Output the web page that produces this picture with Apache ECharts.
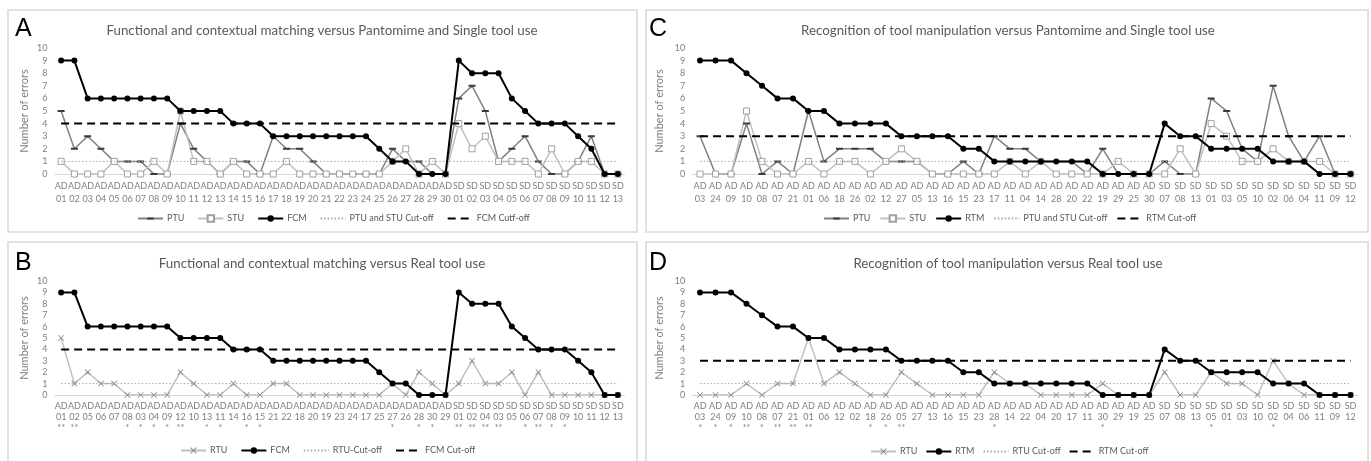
<!DOCTYPE html>
<html><head><meta charset="utf-8">
<script src="https://cdn.jsdelivr.net/npm/echarts@6/dist/echarts.min.js"></script>
<style>html,body{margin:0;padding:0;background:#fff}#c{width:1371px;height:461px}</style>
</head><body><div id="c"></div><script>
// ---------- data ----------
const catsA = ['AD 01','AD 02','AD 03','AD 04','AD 05','AD 06','AD 07','AD 08','AD 09','AD 10','AD 11','AD 12','AD 13','AD 14','AD 15','AD 16','AD 17','AD 18','AD 19','AD 20','AD 21','AD 22','AD 23','AD 24','AD 25','AD 26','AD 27','AD 28','AD 29','AD 30','SD 01','SD 02','SD 03','SD 04','SD 05','SD 06','SD 07','SD 08','SD 09','SD 10','SD 11','SD 12','SD 13'];
const ptuA = [5,2,3,2,1,1,1,0,0,4, 2,1,0,1,1,0,3,2,2,1, 0,0,0,0,0,2,1,1,0,0, 6,7,5,1,2,3,1,0,0,1,3,0,0];
const stuA = [1,0,0,0,1,0,0,1,0,5, 1,1,0,1,0,0,0,1,0,0, 0,0,0,0,0,1,2,0,1,0, 4,2,3,1,1,1,0,2,0,1,1,0,0];
const fcmA = [9,9,6,6,6,6,6,6,6,5, 5,5,5,4,4,4,3,3,3,3, 3,3,3,3,2,1,1,0,0,0, 9,8,8,8,6,5,4,4,4,3,2,0,0];
const cutPtuStuA = 1, cutFcmA = 4;

const catsB = ['AD 01','AD 02','AD 05','AD 06','AD 07','AD 08','AD 03','AD 04','AD 09','AD 12','AD 10','AD 13','AD 11','AD 14','AD 16','AD 15','AD 21','AD 22','AD 18','AD 20','AD 19','AD 23','AD 24','AD 17','AD 25','AD 27','AD 26','AD 28','AD 30','AD 29','SD 01','SD 02','SD 04','SD 03','SD 05','SD 06','SD 07','SD 08','SD 09','SD 10','SD 11','SD 12','SD 13'];
const sigB = ['**','**','','','','*','*','*','*','**', '','*','*','','*','*','','','','', '','','','','','*','','*','*','', '**','**','**','**','','*','**','*','*','','','',''];
const rtuB = [5,1,2,1,1,0,0,0,0,2, 1,0,0,1,0,0,1,1,0,0, 0,0,0,0,0,1,0,2,1,0, 1,3,1,1,2,0,2,0,0,0,0,0,0];
const fcmB = [9,9,6,6,6,6,6,6,6,5, 5,5,5,4,4,4,3,3,3,3, 3,3,3,3,2,1,1,0,0,0, 9,8,8,8,6,5,4,4,4,3,2,0,0];
const cutRtuB = 1, cutFcmB = 4;

const catsC = ['AD 03','AD 24','AD 09','AD 10','AD 08','AD 07','AD 21','AD 01','AD 06','AD 18','AD 26','AD 02','AD 12','AD 27','AD 05','AD 13','AD 16','AD 15','AD 23','AD 17','AD 11','AD 04','AD 14','AD 28','AD 20','AD 22','AD 19','AD 29','AD 25','AD 30','SD 07','SD 08','SD 13','SD 01','SD 03','SD 05','SD 10','SD 02','SD 06','SD 04','SD 11','SD 09','SD 12'];
const ptuC = [3,0,0,4,0,1,0,5,1,2, 2,2,1,1,1,0,0,1,0,3, 2,2,1,1,1,0,2,0,0,0, 1,0,0,6,5,2,1,7,3,1,3,0,0];
const stuC = [0,0,0,5,1,0,0,1,0,1, 1,0,1,2,1,0,0,0,0,0, 1,0,1,0,0,0,0,1,0,0, 0,2,0,4,3,1,1,2,1,1,1,0,0];
const rtmC = [9,9,9,8,7,6,6,5,5,4, 4,4,4,3,3,3,3,2,2,1, 1,1,1,1,1,1,0,0,0,0, 4,3,3,2,2,2,2,1,1,1,0,0,0];
const cutPtuStuC = 1, cutRtmC = 3;

const catsD = ['AD 03','AD 24','AD 09','AD 10','AD 08','AD 07','AD 21','AD 01','AD 06','AD 12','AD 02','AD 18','AD 26','AD 05','AD 27','AD 13','AD 16','AD 15','AD 23','AD 28','AD 14','AD 22','AD 04','AD 20','AD 17','AD 11','AD 30','AD 29','AD 19','AD 25','SD 07','SD 08','SD 13','SD 05','SD 01','SD 03','SD 10','SD 02','SD 04','SD 06','SD 11','SD 09','SD 12'];
const sigD = ['*','*','*','**','*','**','**','**','','', '','*','*','**','','','','','','*', '','','','','','','*','','','', '','','','*','','','','*','','','','',''];
const rtuD = [0,0,0,1,0,1,1,5,1,2, 1,0,0,2,1,0,0,0,0,2, 1,1,0,0,0,0,1,0,0,0, 2,0,0,2,1,1,0,3,1,0,0,0,0];
const rtmD = [9,9,9,8,7,6,6,5,5,4, 4,4,4,3,3,3,3,2,2,1, 1,1,1,1,1,1,0,0,0,0, 4,3,3,2,2,2,2,1,1,1,0,0,0];
const cutRtuD = 1, cutRtmD = 3;

const yTicks = [0,1,2,3,4,5,6,7,8,9,10];

// ---------- styles ----------
const FONT = 'Lato, "Open Sans", sans-serif';
const XSYM = 'path://M0,1L1,0L5,4L9,0L10,1L6,5L10,9L9,10L5,6L1,10L0,9L4,5Z';
// horizontal dash marker; tiny corner specks keep the bounding box square
const DASH = 'path://M0,0L0.01,0L0,0.01Z M10,10L9.99,10L10,9.99Z M0,3.6H10V6.4H0Z';
const CLEAR = 'rgba(0,0,0,0)';
const grids = [
  {left: 54.5, right: 746.5, top: 48, bottom: 287},
  {left: 54.5, right: 746.5, top: 281, bottom: 66},
  {left: 692.3, right: 12.7, top: 48, bottom: 287},
  {left: 692.3, right: 12.7, top: 281, bottom: 66}
];
function xAx(i, cats, sig, lh) {
  return {type:'category', gridIndex:i, data:cats, boundaryGap:true,
    axisLine:{show:true, lineStyle:{color:'#d9d9d9', width:1}}, axisTick:{show:false},
    axisLabel:{interval:0, color:'#7f7f7f', fontSize:9, fontFamily:FONT, lineHeight:lh, margin:6,
      formatter:(v, idx) => { const p = v.split(' '); return sig ? p[0]+'\n'+p[1]+'\n'+(sig[idx]||' ') : p[0]+'\n'+p[1]; }}};
}
function yAx(i, gap) {
  return {type:'value', gridIndex:i, min:yTicks[0], max:yTicks[yTicks.length-1], interval:1,
    name:'Number of errors', nameLocation:'middle', nameGap:gap, nameRotate:90,
    nameTextStyle:{color:'#7f7f7f', fontSize:11, fontFamily:FONT},
    axisLine:{show:false}, axisTick:{show:false}, splitLine:{show:false},
    axisLabel:{color:'#7f7f7f', fontSize:9, fontFamily:FONT, margin:7}};
}
function mainS(name, i, data) {
  return {name, type:'line', xAxisIndex:i, yAxisIndex:i, data, symbol:'circle', symbolSize:6, z:5,
    itemStyle:{color:'#000'}, lineStyle:{color:'#000', width:2}};
}
function ptuS(name, i, data) {
  return {name, type:'line', xAxisIndex:i, yAxisIndex:i, data, symbol:DASH, symbolSize:7, z:3,
    itemStyle:{color:'#3a3a3a'}, lineStyle:{color:'#808080', width:1.5}};
}
function stuS(name, i, data) {
  return {name, type:'line', xAxisIndex:i, yAxisIndex:i, data, symbol:'rect', symbolSize:6, z:3,
    itemStyle:{color:'#fff', borderColor:'#a0a0a0', borderWidth:1}, lineStyle:{color:'#c0c0c0', width:1.5}};
}
function rtuS(name, i, data) {
  return {name, type:'line', xAxisIndex:i, yAxisIndex:i, data, symbol:XSYM, symbolSize:6, z:3,
    itemStyle:{color:'#8a8a8a'}, lineStyle:{color:'#c0c0c0', width:1.5}};
}
function dotCut(name, i, cats, v) {
  return {name, type:'line', xAxisIndex:i, yAxisIndex:i, data:cats.map(() => v), symbol:'none', z:4,
    lineStyle:{color:'#a6a6a6', width:1, type:[1.5,2]}, itemStyle:{color:CLEAR}};
}
function dashCut(name, i, cats, v) {
  return {name, type:'line', xAxisIndex:i, yAxisIndex:i, data:cats.map(() => v), symbol:'none', z:4,
    lineStyle:{color:'#000', width:2, type:[8,5]}, itemStyle:{color:CLEAR}};
}
function legend(names, left, top, gap) {
  return {data:names, left, top, itemWidth:25, itemHeight:8, itemGap:gap, selectedMode:false,
    textStyle:{color:'#595959', fontSize:9, fontFamily:FONT, padding:[0,0,0,-1]}};
}
function heading(text, x, y) {
  return {text, left:x, top:y, textAlign:'center',
    textStyle:{color:'#595959', fontSize:13.3, fontWeight:'normal', fontFamily:FONT}};
}
function box(x, y, w, h) {
  return {type:'rect', shape:{x, y, width:w, height:h}, style:{fill:'none', stroke:'#d9d9d9', lineWidth:1.5}, silent:true, z:-10};
}
function letter(t, x, y) {
  return {type:'text', x, y, style:{text:t, fill:'#000', font:'25px "Liberation Sans", Arial, sans-serif'}, silent:true};
}

const option = {
  animation:false,
  backgroundColor:'#fff',
  title:[
    heading('Functional and contextual matching versus Pantomime and Single tool use', 317, 19),
    heading('Functional and contextual matching versus Real tool use', 317, 252),
    heading('Recognition of tool manipulation versus Pantomime and Single tool use', 1003, 19),
    heading('Recognition of tool manipulation versus Real tool use', 1003, 252)
  ],
  graphic:[
    box(8, 10, 629, 222), box(646, 10, 722, 222), box(8, 242, 629, 230), box(646, 242, 722, 230),
    letter('A', 15, 17), letter('B', 15, 251), letter('C', 649, 17), letter('D', 649, 251)
  ],
  grid:grids,
  xAxis:[xAx(0, catsA, null, 13), xAx(1, catsB, sigB, 11), xAx(2, catsC, null, 13), xAx(3, catsD, sigD, 11)],
  yAxis:[yAx(0, 25), yAx(1, 25), yAx(2, 27), yAx(3, 27)],
  legend:[
    legend(['PTU','STU','FCM','PTU and STU Cut-off','FCM Cutf-off'], 132, 209, 13),
    legend(['RTU','FCM','RTU-Cut-off','FCM Cut-off'], 175, 441, 13),
    legend(['PTU','STU','RTM','PTU and STU Cut-off','RTM Cut-off'], 818, 209, 9),
    legend(['RTU','RTM','RTU Cut-off','RTM Cut-off'], 865, 442, 8)
  ],
  series:[
    ptuS('PTU', 0, ptuA), stuS('STU', 0, stuA), mainS('FCM', 0, fcmA),
    dotCut('PTU and STU Cut-off', 0, catsA, cutPtuStuA), dashCut('FCM Cutf-off', 0, catsA, cutFcmA),
    rtuS('RTU', 1, rtuB), mainS('FCM', 1, fcmB),
    dotCut('RTU-Cut-off', 1, catsB, cutRtuB), dashCut('FCM Cut-off', 1, catsB, cutFcmB),
    ptuS('PTU', 2, ptuC), stuS('STU', 2, stuC), mainS('RTM', 2, rtmC),
    dotCut('PTU and STU Cut-off', 2, catsC, cutPtuStuC), dashCut('RTM Cut-off', 2, catsC, cutRtmC),
    rtuS('RTU', 3, rtuD), mainS('RTM', 3, rtmD),
    dotCut('RTU Cut-off', 3, catsD, cutRtuD), dashCut('RTM Cut-off', 3, catsD, cutRtmD)
  ]
};
const chart = echarts.init(document.getElementById('c'), null, {renderer:'canvas'});
chart.setOption(option);
</script></body></html>
